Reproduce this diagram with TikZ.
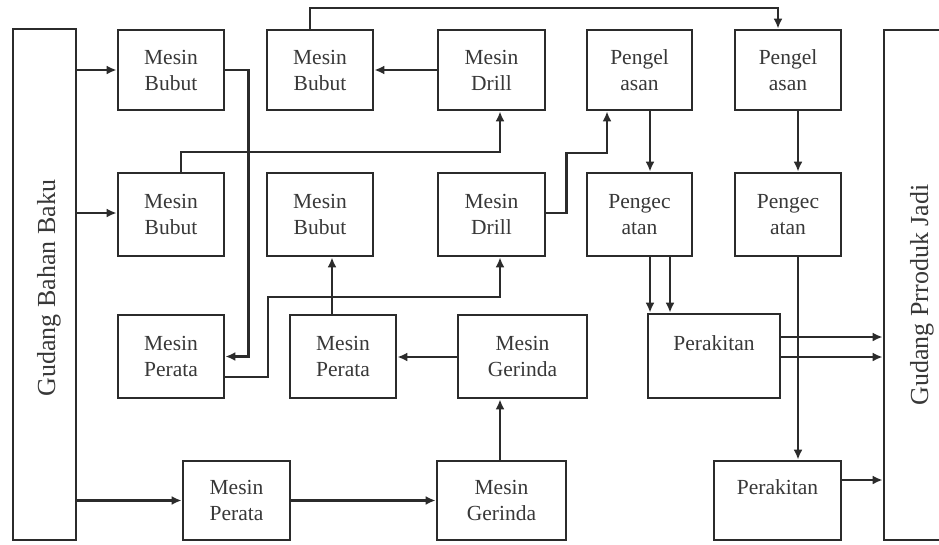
\documentclass[tikz,border=0pt]{standalone}
\usepackage{fontspec}
\setmainfont{Liberation Serif}
\usetikzlibrary{arrows.meta}
\definecolor{ink}{HTML}{2B2B2B}
\definecolor{txt}{HTML}{383838}
\tikzset{
  box/.style={draw=ink, line width=2.8pt, fill=white, rectangle, inner sep=0pt,
    align=center, text=txt, font=\fontsize{21.5}{26}\selectfont},
  store/.style={draw=ink, line width=2.8pt, rectangle, inner sep=0pt},
  storelabel/.style={text=txt, font=\fontsize{26}{30}\selectfont, rotate=90, inner sep=0pt},
  arr/.style={draw=ink, line width=2.2pt, -{Latex[length=10pt,width=9pt]}},
  link/.style={draw=ink, line width=2.2pt}
}
\begin{document}
\begin{tikzpicture}[x=1pt, y=-1pt]
\useasboundingbox (0,0) rectangle (939,544);
\clip (0,0) rectangle (939,544);
\fill[white] (0,0) rectangle (939,544);

% warehouses
\node[store, minimum width=63, minimum height=511] (GBB) at (44.5,284.5) {};
\node[storelabel] (GBBt) at (49,288) {Gudang Bahan Baku};
\node[store, minimum width=80, minimum height=510] (GPJ) at (924,285) {};
\node[storelabel] (GPJt) at (922,295) {Gudang Prroduk Jadi};

% first row
\node[box, minimum width=106, minimum height=80] (B1) at (171,70) {Mesin\\Bubut};
\node[box, minimum width=106, minimum height=80] (B2) at (320,70) {Mesin\\Bubut};
\node[box, minimum width=107, minimum height=80] (D1) at (491.5,70) {Mesin\\Drill};
\node[box, minimum width=105, minimum height=80] (L1) at (639.5,70) {Pengel\\asan};
\node[box, minimum width=106, minimum height=80] (L2) at (788,70) {Pengel\\asan};

% second row
\node[box, minimum width=106, minimum height=83] (U1) at (171,214.5) {Mesin\\Bubut};
\node[box, minimum width=106, minimum height=83] (U2) at (320,214.5) {Mesin\\Bubut};
\node[box, minimum width=107, minimum height=83] (D2) at (491.5,214.5) {Mesin\\Drill};
\node[box, minimum width=105, minimum height=83] (C1) at (639.5,214.5) {Pengec\\atan};
\node[box, minimum width=106, minimum height=83] (C2) at (788,214.5) {Pengec\\atan};

% third row
\node[box, minimum width=106, minimum height=83] (P1) at (171,356.5) {Mesin\\Perata};
\node[box, minimum width=106, minimum height=83] (P2) at (343,356.5) {Mesin\\Perata};
\node[box, minimum width=129, minimum height=83] (G1) at (522.5,356.5) {Mesin\\Gerinda};
\node[box, minimum width=132, minimum height=84] (K1) at (714,356) {Perakitan\\~};

% fourth row
\node[box, minimum width=107, minimum height=79] (P3) at (236.5,500.5) {Mesin\\Perata};
\node[box, minimum width=129, minimum height=79] (G2) at (501.5,500.5) {Mesin\\Gerinda};
\node[box, minimum width=127, minimum height=79] (K2) at (777.5,500.5) {Perakitan\\~};

% junction points of the routed lines
\coordinate (j1) at (607,153);
\coordinate (j2) at (268,297);

% from the raw material store
\draw[arr] (GBB.east |- B1.west) -- (B1.west);
\draw[arr] ([yshift=1.5pt]GBB.east |- U1.west) -- ([yshift=1.5pt]U1.west);
\draw[arr] (GBB.east |- P3.west) -- (P3.west);

% machining lines
\draw[arr] (B1.east) -- ++(23,0) |- (P1.east);
\draw[arr] ([xshift=10pt]U1.north) -- ++(0,-20) -| ([xshift=8.5pt]D1.south);
\draw[arr] (D1.west) -- (B2.west -| B2.east);
\draw[arr] ([xshift=-10pt]B2.north) -- ++(0,-21) -| ([xshift=-10pt]L2.north);
\draw[arr] ([yshift=1.5pt]D2.east) -- ++(20,0) |- (j1) -- (L1.south -| j1);
\draw[arr] ([yshift=-20.5pt]P1.east) -| (j2) -| ([xshift=8.5pt]D2.south);
\draw[arr] ([xshift=-11pt]P2.north) -- ([xshift=12pt]U2.south);
\draw[arr] ([yshift=-0.5pt]G1.west) -- ([yshift=-0.5pt]P2.east);
\draw[arr] ([xshift=-1.5pt]G2.north) -- ([xshift=-22.5pt]G1.south);
\draw[arr] (P3.east) -- (G2.west);

% welding, painting and assembly
\draw[arr] ([xshift=10.5pt]L1.south) -- ([xshift=10.5pt]C1.north);
\draw[arr] ([xshift=10pt]L2.south) -- ([xshift=10pt]C2.north);
\draw[arr] ([xshift=10.5pt]C1.south) -- ([xshift=-64pt]K1.north);
\draw[arr] ([xshift=30.5pt]C1.south) -- ([xshift=-44pt]K1.north);
\draw[arr] ([xshift=10pt]C2.south) -- ([xshift=20.5pt]K2.north);

% into the finished goods store
\draw[arr] ([yshift=19pt]K1.east) -- ([yshift=19pt]K1.east -| GPJ.west);
\draw[arr] ([yshift=-1pt]K1.east) -- ([yshift=-1pt]K1.east -| GPJ.west);
\draw[arr] ([yshift=20.5pt]K2.east) -- ([yshift=20.5pt]K2.east -| GPJ.west);
\end{tikzpicture}
\end{document}
